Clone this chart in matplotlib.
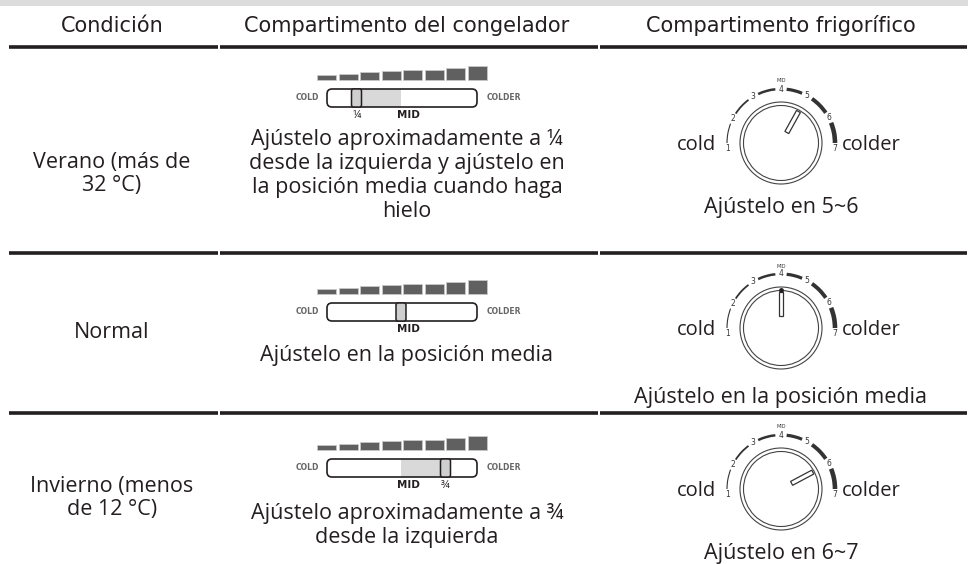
import numpy as np
import matplotlib.pyplot as plt
from matplotlib.patches import FancyBboxPatch, Rectangle, Polygon, Circle, Arc

# table content
headers = ["Condición", "Compartimento del congelador", "Compartimento frigorífico"]
conditions = ["Verano (más de\n32 °C)", "Normal", "Invierno (menos\nde 12 °C)"]
freezer_pos = [0.25, 0.5, 0.75]          # slider position (0 = cold, 1 = colder)
freezer_mark = ["¼", "", "¾"]
freezer_text = ["Ajústelo aproximadamente a ¼\ndesde la izquierda y ajústelo en\nla posición media cuando haga\nhielo",
                "Ajústelo en la posición media",
                "Ajústelo aproximadamente a ¾\ndesde la izquierda"]
fridge_setting = [5, 4, 6]               # dial pointer position
fridge_text = ["Ajústelo en 5~6", "Ajústelo en la posición media", "Ajústelo en 6~7"]
dial_numbers = [1, 2, 3, 4, 5, 6, 7]
dial_angles = [186, 153, 121, 90, 61, 28, -6]
bar_heights = [5, 6, 8, 9.5, 10.5, 10.5, 12, 14]

# layout (pixels)
col_edges = [8, 219, 599, 968]
col_centers = [112, 407, 781]
row_lines = [47, 253, 413]
cond_y = [174, 333, 498]
slider_y = [98, 312, 468]
freezer_text_y = [129, 345, 503]
dial_y = [143, 328, 489]
fridge_text_y = [207, 398, 553]

ink = '#231f20'
body_font = 'Open Sans'

fig = plt.figure(figsize=(9.68, 5.64), dpi=100)
ax = fig.add_axes([0, 0, 1, 1])
ax.set_xlim(0, 968)
ax.set_ylim(564, 0)
ax.axis('off')

# top grey band
ax.add_patch(Rectangle((0, 0), 968, 6, color='#dcdcdc', lw=0))

# header
for x, h in zip(col_centers, headers):
    ax.text(x, 26, h, ha='center', va='center', fontsize=15, color=ink,
            family='DejaVu Sans')

# rule lines, split at column borders
for y in row_lines:
    for i in range(3):
        ax.plot([col_edges[i] + 1, col_edges[i + 1] - 1], [y, y], color=ink, lw=2.6,
                solid_capstyle='butt')


def draw_slider(cx, cy, pos, mark):
    left, right = cx - 80, cx + 70
    bh = 18
    span = 178
    mid_x = cx - 6
    knob_x = mid_x + (pos - 0.5) * span
    # level bars
    bx = cx - 90
    for h in bar_heights:
        ax.add_patch(Rectangle((bx, cy - bh / 2 - 9 - h), 19, h, facecolor='#606060',
                               edgecolor='#c8c8c8', lw=0.6))
        bx += 21.5
    # shading between mid and knob
    a, b = sorted([mid_x, knob_x])
    ax.add_patch(Rectangle((a, cy - bh / 2), b - a, bh, facecolor='#d9d9d9', lw=0))
    ax.add_patch(FancyBboxPatch((left, cy - bh / 2), right - left, bh,
                                boxstyle='round,pad=0,rounding_size=5',
                                facecolor='none', edgecolor=ink, lw=1.2))
    ax.add_patch(FancyBboxPatch((knob_x - 5, cy - bh / 2), 10, bh,
                                boxstyle='round,pad=0,rounding_size=2',
                                facecolor='#cfcfcf', edgecolor=ink, lw=1.1))
    ax.text(left - 8, cy, "COLD", ha='right', va='center', fontsize=5.5,
            fontweight='bold', color='#666666')
    ax.text(right + 10, cy, "COLDER", ha='left', va='center', fontsize=5.5,
            fontweight='bold', color='#666666')
    ax.text(mid_x + 7, cy + bh / 2 + 8, "MID", ha='center', va='center', fontsize=7.5,
            fontweight='bold', color=ink)
    if mark:
        ax.text(knob_x, cy + bh / 2 + 8, mark, ha='center', va='center', fontsize=8,
                color=ink, family=body_font)


def draw_dial(cx, cy, setting):
    r = 41
    ax.add_patch(Circle((cx, cy), r, facecolor='none', edgecolor='#444444', lw=0.8))
    ax.add_patch(Circle((cx, cy), r - 3.5, facecolor='none', edgecolor='#444444', lw=0.8))
    rs = 54
    for i in range(len(dial_numbers) - 1):
        a1, a2 = dial_angles[i + 1] + 6, dial_angles[i] - 6
        ax.add_patch(Arc((cx, cy), 2 * rs, 2 * rs, theta1=-a2, theta2=-a1,
                         color='#333333', lw=0.8 + 0.5 * i))
    for n, a in zip(dial_numbers, dial_angles):
        t = np.radians(a)
        ax.text(cx + rs * np.cos(t), cy - rs * np.sin(t), str(n), ha='center',
                va='center', fontsize=5.5, color='#333333')
    ax.text(cx, cy - rs - 8, "MID", ha='center', va='center', fontsize=3.5,
            color='#333333')
    ang = np.radians(np.interp(setting, dial_numbers, dial_angles))
    d = np.array([np.cos(ang), -np.sin(ang)])
    nrm = np.array([-d[1], d[0]]) * 2.2
    p0 = np.array([cx, cy]) + d * 12
    p1 = np.array([cx, cy]) + d * 36
    ax.add_patch(Polygon([p0 + nrm, p1 + nrm, p1 - nrm, p0 - nrm], closed=True,
                         facecolor='white', edgecolor='#333333', lw=0.9))
    if setting == 4:
        ax.plot(*(np.array([cx, cy]) + d * 38), 'o', color=ink, ms=2.5)
    ax.text(cx - r - 24, cy + 2, "cold", ha='right', va='center', fontsize=14.5,
            color=ink, family=body_font)
    ax.text(cx + r + 20, cy + 2, "colder", ha='left', va='center', fontsize=14.5,
            color=ink, family=body_font)


for i in range(3):
    ax.text(col_centers[0], cond_y[i], conditions[i], ha='center', va='center',
            fontsize=15.5, color=ink, family=body_font, linespacing=1.18)
    draw_slider(col_centers[1], slider_y[i], freezer_pos[i], freezer_mark[i])
    ax.text(col_centers[1], freezer_text_y[i], freezer_text[i], ha='center', va='top',
            fontsize=15.5, color=ink, family=body_font, linespacing=1.18)
    draw_dial(col_centers[2], dial_y[i], fridge_setting[i])
    ax.text(col_centers[2], fridge_text_y[i], fridge_text[i], ha='center', va='center',
            fontsize=15.5, color=ink, family=body_font)

fig.savefig('out.png', dpi=100)
